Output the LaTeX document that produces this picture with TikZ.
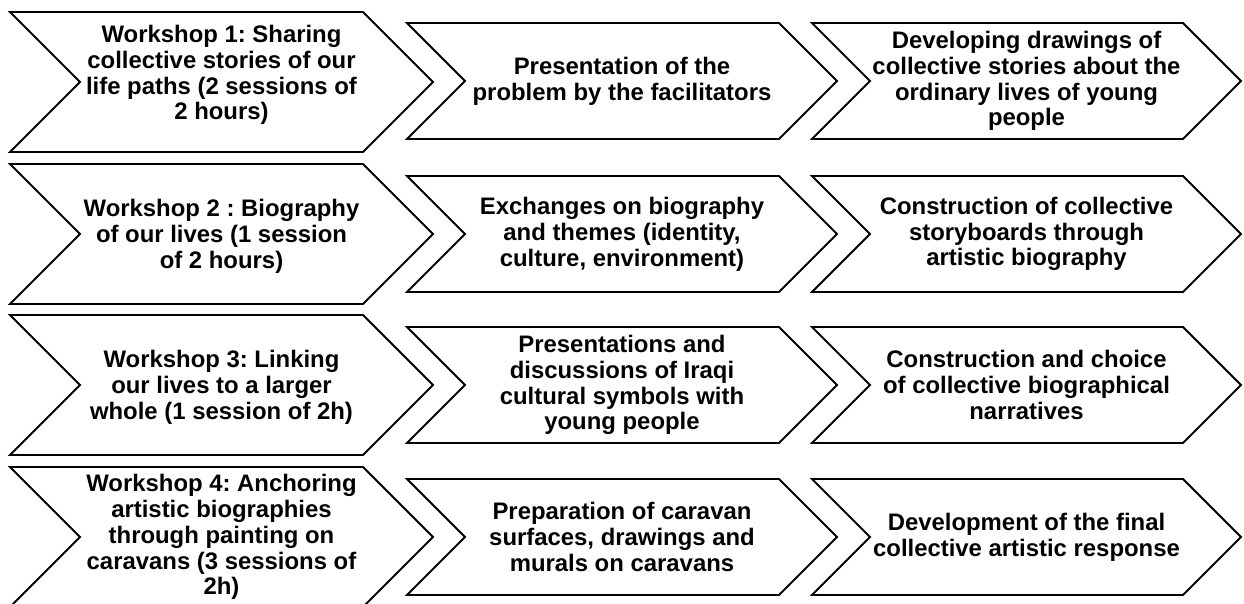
\documentclass[tikz,border=0pt]{standalone}
\usepackage{fontspec}
\setmainfont{Liberation Sans}
\usetikzlibrary{positioning}
\frenchspacing

% chevron outline: left x, centre y, half height, right corner x
\newcommand{\chevpath}[4]{%
  \draw[chevline] (#1,#2-#3) -- (#4,#2-#3) -- (#4+#3,#2) -- (#4,#2+#3) -- (#1,#2+#3) -- (#1+#3,#2) -- cycle;}

\begin{document}
\begin{tikzpicture}[x=0.02cm,y=-0.02cm,
  chevline/.style={draw=black,line width=1.1pt,line join=miter,fill=white},
  steptext/.style={inner sep=0pt,align=center,font=\bfseries\frenchspacing\fontsize{13.6}{14.7}\selectfont}]
  \clip (0,0) rectangle (1244,603);
  \fill[white] (0,0) rectangle (1244,603);

  % workshops (left column)
  \chevpath{10}{82}{70}{363}
  \chevpath{10}{234}{70}{363}
  \chevpath{10}{385}{70}{363}
  \chevpath{10}{537}{70}{363}
  \node[steptext] (w1) at (221.5,75) {Workshop 1: Sharing\\collective stories of our\\life paths (2 sessions of\\2 hours)};
  \node[steptext] (w2) at (221.5,236) {Workshop 2 : Biography\\of our lives (1 session\\of 2 hours)};
  \node[steptext] (w3) at (221.5,387) {Workshop 3: Linking\\our lives to a larger\\whole (1 session of 2h)};
  \node[steptext] (w4) at (221.5,537) {Workshop 4: Anchoring\\artistic biographies\\through painting on\\caravans (3 sessions of\\2h)};

  % activities (middle column)
  \chevpath{407}{81}{58}{779}
  \chevpath{407}{234}{58}{779}
  \chevpath{407}{385}{58}{779}
  \chevpath{407}{537}{58}{779}
  \node[steptext] (a1) at (622,81) {Presentation of the\\problem by the facilitators};
  \node[steptext] (a2) at (622,234) {Exchanges on biography\\and themes (identity,\\culture, environment)};
  \node[steptext] (a3) at (622,385) {Presentations and\\discussions of Iraqi\\cultural symbols with\\young people};
  \node[steptext] (a4) at (622,537) {Preparation of caravan\\surfaces, drawings and\\murals on caravans};

  % outcomes (right column)
  \chevpath{812}{81}{58}{1183}
  \chevpath{812}{234}{58}{1183}
  \chevpath{812}{385}{58}{1183}
  \chevpath{812}{537}{58}{1183}
  \node[steptext] (o1) at (1026.5,81) {Developing drawings of\\collective stories about the\\ordinary lives of young\\people};
  \node[steptext] (o2) at (1026.5,234) {Construction of collective\\storyboards through\\artistic biography};
  \node[steptext] (o3) at (1026.5,385) {Construction and choice\\of collective biographical\\narratives};
  \node[steptext] (o4) at (1026.5,537) {Development of the final\\collective artistic response};
\end{tikzpicture}
\end{document}
